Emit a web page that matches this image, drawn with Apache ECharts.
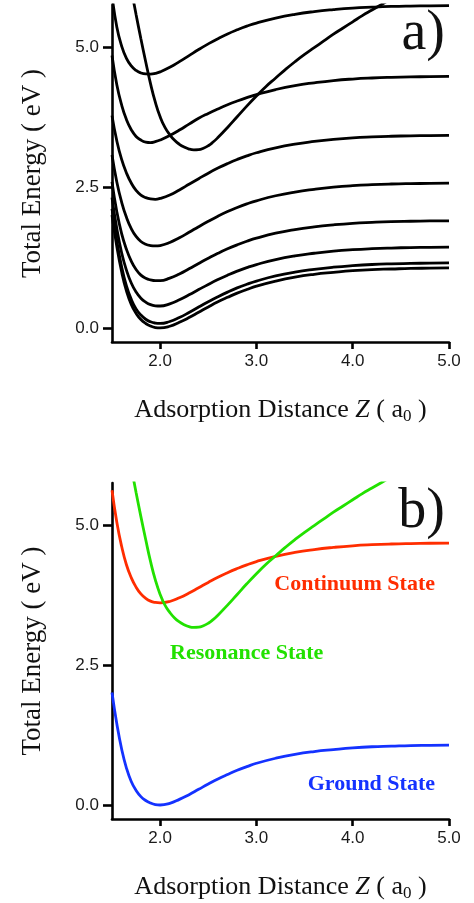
<!DOCTYPE html>
<html>
<head>
<meta charset="utf-8">
<script src="https://cdn.jsdelivr.net/npm/echarts@6/dist/echarts.min.js"></script>
<style>html,body{margin:0;padding:0;background:#fff}#c{width:474px;height:903px}</style>
</head>
<body>
<div id="c"></div>
<script>
// Adsorption distance grid (a0)
var zGrid = [1.5,1.55,1.6,1.65,1.7,1.75,1.8,1.85,1.9,1.95,2.0,2.1,2.2,2.3,2.4,2.5,2.6,2.7,2.8,2.9,3.0,3.2,3.4,3.6,3.8,4.0,4.2,4.4,4.6,4.8,5.0];
// Panel a) black curves (eV)
var ground = [2.01,1.45,1.00,0.66,0.42,0.26,0.15,0.08,0.035,0.008,0.00,0.03,0.10,0.185,0.28,0.375,0.465,0.545,0.62,0.685,0.745,0.835,0.905,0.955,0.99,1.02,1.04,1.05,1.06,1.065,1.07];
var curve2 = [2.12,1.55,1.09,0.75,0.51,0.34,0.23,0.155,0.11,0.087,0.08,0.115,0.186,0.275,0.372,0.467,0.556,0.638,0.713,0.778,0.835,0.927,0.995,1.044,1.082,1.11,1.13,1.142,1.149,1.155,1.158];
var curve3 = [2.32,1.77,1.34,1.03,0.80,0.64,0.53,0.46,0.415,0.395,0.391,0.43,0.501,0.59,0.683,0.775,0.861,0.94,1.012,1.075,1.129,1.217,1.283,1.33,1.367,1.393,1.411,1.423,1.431,1.435,1.438];
var curve4 = [2.60,2.07,1.68,1.40,1.19,1.04,0.94,0.885,0.855,0.842,0.842,0.887,0.962,1.053,1.148,1.241,1.329,1.409,1.48,1.543,1.598,1.687,1.752,1.80,1.836,1.863,1.88,1.893,1.90,1.905,1.908];
var curve5 = [3.08,2.60,2.24,1.97,1.77,1.63,1.54,1.49,1.467,1.46,1.468,1.522,1.606,1.703,1.803,1.899,1.99,2.072,2.144,2.208,2.264,2.354,2.42,2.468,2.506,2.533,2.551,2.563,2.57,2.574,2.578];
var curve6 = [3.78,3.33,3.00,2.76,2.58,2.45,2.365,2.32,2.297,2.291,2.306,2.368,2.458,2.558,2.658,2.756,2.846,2.927,3.00,3.064,3.119,3.207,3.273,3.32,3.357,3.384,3.401,3.413,3.421,3.425,3.428];
var curve7 = [4.85,4.33,3.97,3.71,3.53,3.41,3.345,3.31,3.301,3.317,3.345,3.425,3.524,3.629,3.733,3.82,3.90,3.975,4.04,4.10,4.155,4.245,4.315,4.365,4.405,4.432,4.45,4.462,4.47,4.475,4.478];
var curve8 = [5.92,5.36,5.02,4.80,4.665,4.585,4.54,4.522,4.52,4.532,4.559,4.64,4.741,4.849,4.957,5.058,5.151,5.235,5.308,5.373,5.429,5.517,5.584,5.633,5.669,5.696,5.712,5.724,5.731,5.735,5.738];
// Continuum state (panel b)
var continuum = [5.62,5.05,4.62,4.29,4.06,3.89,3.77,3.69,3.64,3.617,3.61,3.634,3.70,3.785,3.88,3.975,4.066,4.148,4.222,4.289,4.347,4.44,4.511,4.562,4.60,4.629,4.648,4.661,4.669,4.674,4.678];
// Resonance state
var resZ = [1.72,1.75,1.8,1.85,1.9,1.95,2.0,2.05,2.1,2.15,2.2,2.25,2.3,2.35,2.4,2.45,2.5,2.55,2.6,2.7,2.8,2.9,3.0,3.1,3.2,3.3,3.4,3.5,3.6,3.7,3.8,3.9,4.0,4.1,4.2,4.3,4.35];
var resE = [5.85,5.58,5.15,4.74,4.35,4.02,3.76,3.57,3.44,3.34,3.27,3.22,3.185,3.172,3.175,3.20,3.245,3.31,3.39,3.57,3.76,3.95,4.13,4.30,4.45,4.60,4.74,4.87,4.99,5.11,5.23,5.34,5.45,5.56,5.66,5.76,5.81];
// Tick labels
var xTicks = [2.0,3.0,4.0,5.0];
var yTicks = [0.0,2.5,5.0];

var RED = '#ff2d00', GREEN = '#22e100', BLUE = '#1432ff', BLACK = '#000';
function pairs(xs, ys){ return xs.map(function(x,i){ return [x, ys[i]]; }); }

var chart = echarts.init(document.getElementById('c'), null, {renderer:'canvas'});
var sans = 'Liberation Sans', serif = 'Liberation Serif';
function xAxis(gi){
  return {
    type:'value', gridIndex:gi, min:1.5, max:5.0,
    name:'Adsorption Distance {i|Z} ( a{sub|0} )', nameLocation:'middle', nameGap:53,
    nameTextStyle:{fontFamily:serif, fontSize:26, color:'#111',
      rich:{i:{fontFamily:serif, fontStyle:'italic', fontSize:26, color:'#111'},
            sub:{fontFamily:serif, fontSize:17, color:'#111', padding:[13,0,0,0]}}},
    axisLine:{onZero:false, lineStyle:{color:BLACK, width:2.6}},
    axisTick:{customValues:xTicks, length:7, lineStyle:{color:BLACK, width:2.6}},
    axisLabel:{customValues:xTicks, margin:11, fontFamily:sans, fontSize:17, color:'#1a1a1a',
      formatter:function(v){ return v.toFixed(1); }},
    splitLine:{show:false}
  };
}
function yAxis(gi){
  return {
    type:'value', gridIndex:gi, min:-0.25, max:5.75,
    name:'Total Energy ( eV )', nameLocation:'middle', nameGap:66, nameRotate:90,
    nameTextStyle:{fontFamily:serif, fontSize:27, color:'#111'},
    axisLine:{onZero:false, lineStyle:{color:BLACK, width:2.6}},
    axisTick:{customValues:yTicks, length:9, lineStyle:{color:BLACK, width:2.6}},
    axisLabel:{customValues:yTicks, margin:13, fontFamily:sans, fontSize:17, color:'#1a1a1a',
      formatter:function(v){ return v.toFixed(1); }},
    splitLine:{show:false}
  };
}
function line(data, color, gi){
  return {type:'line', xAxisIndex:gi, yAxisIndex:gi, data:data, smooth:0.5,
    showSymbol:false, symbol:'none', clip:true, lineStyle:{color:color, width:2.8}, silent:true, animation:false};
}
var blackCurves = [ground, curve2, curve3, curve4, curve5, curve6, curve7, curve8];
var series = blackCurves.map(function(c){ return line(pairs(zGrid, c), BLACK, 0); });
series.push(line(pairs(resZ, resE), BLACK, 0));
series.push(line(pairs(zGrid, continuum), RED, 1));
series.push(line(pairs(resZ, resE), GREEN, 1));
series.push(line(pairs(zGrid, ground), BLUE, 1));

chart.setOption({
  animation:false,
  backgroundColor:'#fff',
  grid:[
    {left:112, right:25, top:5, height:337},
    {left:112, right:25, top:483, height:338}
  ],
  xAxis:[xAxis(0), xAxis(1)],
  yAxis:[yAxis(0), yAxis(1)],
  series:series,
  graphic:[
    {type:'text', x:445, y:34, style:{text:'a)', font:'56px "Liberation Serif"', fill:'#111', textAlign:'right', textVerticalAlign:'middle'}},
    {type:'text', x:445, y:512, style:{text:'b)', font:'56px "Liberation Serif"', fill:'#111', textAlign:'right', textVerticalAlign:'middle'}},
    {type:'text', x:435, y:584, style:{text:'Continuum State', font:'bold 22px "Liberation Serif"', fill:RED, textAlign:'right', textVerticalAlign:'middle'}},
    {type:'text', x:170, y:653, style:{text:'Resonance State', font:'bold 22px "Liberation Serif"', fill:GREEN, textAlign:'left', textVerticalAlign:'middle'}},
    {type:'text', x:435, y:784, style:{text:'Ground State', font:'bold 22px "Liberation Serif"', fill:BLUE, textAlign:'right', textVerticalAlign:'middle'}}
  ]
});
</script>
</body>
</html>
